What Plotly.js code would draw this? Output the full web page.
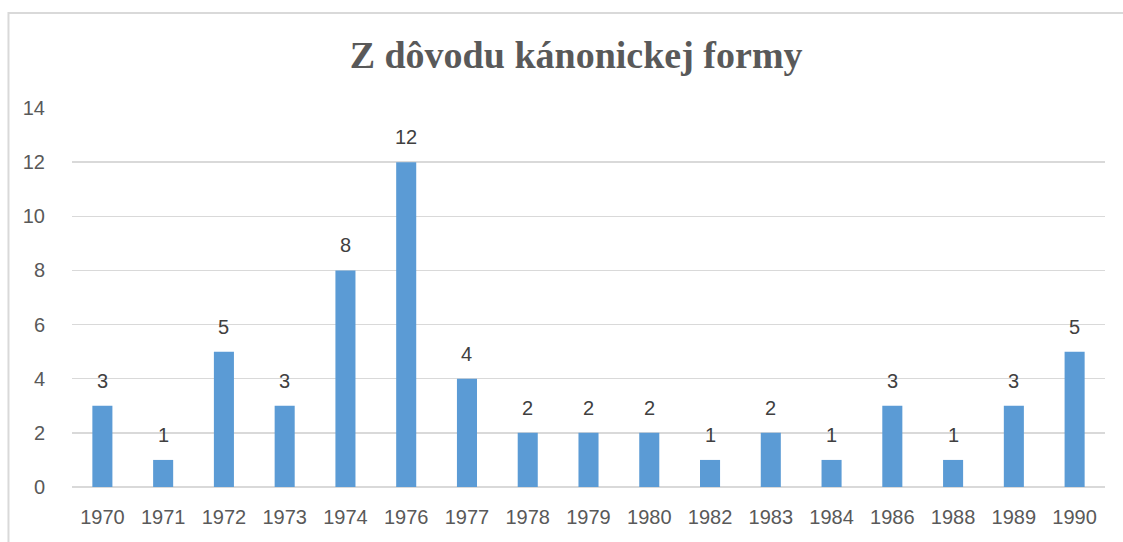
<!DOCTYPE html>
<html>
<head>
<meta charset="utf-8">
<script src="https://cdn.plot.ly/plotly-3.0.1.min.js"></script>
<style>
html,body{margin:0;padding:0;background:#fff;overflow:hidden;}
#chart{width:1123px;height:542px;}
</style>
</head>
<body>
<div id="chart"></div>
<script>
const years = ["1970","1971","1972","1973","1974","1976","1977","1978","1979","1980","1982","1983","1984","1986","1988","1989","1990"];
const counts = [3,1,5,3,8,12,4,2,2,2,1,2,1,3,1,3,5];
const yTicks = [0,2,4,6,8,10,12,14];
const chartTitle = "Z dôvodu kánonickej formy";

const labelFont = {family: "Liberation Sans, Arial, sans-serif", size: 20, color: "#404040"};
const tickFont = {family: "Liberation Sans, Arial, sans-serif", size: 20, color: "#595959"};

const annotations = years.map((y, i) => ({
  x: i, y: counts[i], xref: "x", yref: "y",
  text: String(counts[i]), showarrow: false,
  yanchor: "bottom", yshift: 12, font: labelFont
}));

const trace = {
  type: "bar", x: years, y: counts,
  marker: {color: "#5B9BD5"},
  hoverinfo: "x+y"
};

const layout = {
  width: 1123, height: 542,
  margin: {l: 72, r: 18, t: 108, b: 55},
  paper_bgcolor: "#ffffff", plot_bgcolor: "#ffffff",
  title: {
    text: "<b>" + chartTitle + "</b>",
    font: {family: "Liberation Serif, Times New Roman, serif", size: 38, color: "#595959"},
    x: 0.513, xanchor: "center", y: 0.9, yanchor: "middle"
  },
  bargap: 0.67,
  showlegend: false,
  xaxis: {
    type: "category", tickfont: tickFont,
    range: [-0.5, years.length - 0.5], autorange: false,
    showgrid: false, showline: false, zeroline: false,
    ticks: "outside", ticklen: 12, tickcolor: "rgba(0,0,0,0)"
  },
  yaxis: {
    range: [0, 14], autorange: false, tickvals: yTicks, tickfont: tickFont,
    showgrid: true, gridcolor: "#d9d9d9", gridwidth: 1.3,
    zeroline: true, zerolinecolor: "#d9d9d9", zerolinewidth: 1.3,
    showline: false,
    ticks: "outside", ticklen: 22, tickcolor: "rgba(0,0,0,0)"
  },
  annotations: annotations,
  shapes: [{
    type: "path", xref: "paper", yref: "paper",
    path: "M -0.0615,-0.2 L -0.0615,1.2507 L 1.05,1.2507",
    line: {color: "#d9d9d9", width: 2}
  }]
};

Plotly.newPlot("chart", [trace], layout, {displayModeBar: false, staticPlot: true});
</script>
</body>
</html>
